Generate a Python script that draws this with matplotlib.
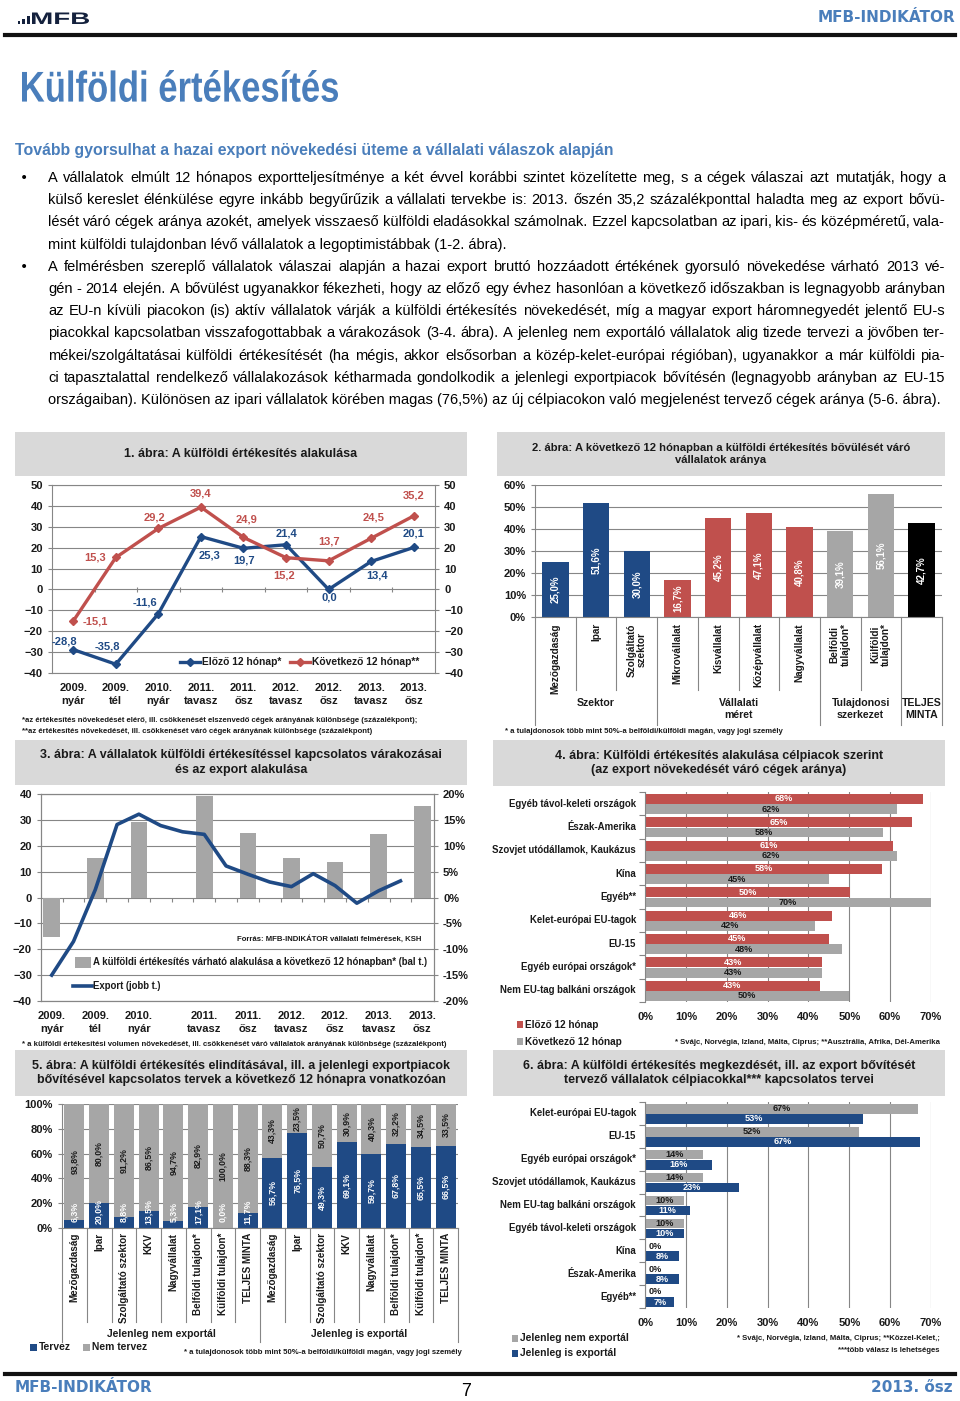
import numpy as np
import matplotlib
matplotlib.use('Agg')
import matplotlib.pyplot as plt
from matplotlib import font_manager
from matplotlib.patches import Rectangle, PathPatch
from matplotlib.lines import Line2D
from matplotlib.textpath import TextPath
from matplotlib.font_manager import FontProperties
from matplotlib.transforms import Affine2D
from matplotlib.ticker import FuncFormatter

# ---------------- data ----------------
periods = ['2009.\nnyár', '2009.\ntél', '2010.\nnyár', '2011.\ntavasz', '2011.\nősz',
           '2012.\ntavasz', '2012.\nősz', '2013.\ntavasz', '2013.\nősz']
prev12 = [-28.8, -35.8, -11.6, 25.3, 19.7, 21.4, 0.0, 13.4, 20.1]
next12 = [-15.1, 15.3, 29.2, 39.4, 24.9, 15.2, 13.7, 24.5, 35.2]

cats2 = ['Mezőgazdaság', 'Ipar', 'Szolgáltató\nszektor', 'Mikrovállalat', 'Kisvállalat',
         'Középvállalat', 'Nagyvállalat', 'Belföldi\ntulajdon*', 'Külföldi\ntulajdon*', '']
vals2 = [25.0, 51.6, 30.0, 16.7, 45.2, 47.1, 40.8, 39.1, 56.1, 42.7]
groups2 = ['Szektor', 'Vállalati\nméret', 'Tulajdonosi\nszerkezet', 'TELJES\nMINTA']
group_of2 = [0, 0, 0, 1, 1, 1, 1, 2, 2, 3]

# chart 3: survey dates in quarters since 2009 summer, export growth quarterly (%)
survey_q = [0, 2, 4, 7, 9, 11, 13, 15, 17]
export_q = list(range(17))
export_yoy = [-15.0, -8.5, 1.5, 14.1, 16.1, 13.9, 12.7, 12.2, 6.1, 4.5, 3.0, 2.1, 4.6, 2.3, -1.1, 1.3, 3.2]

markets4 = ['Egyéb távol-keleti országok', 'Észak-Amerika', 'Szovjet utódállamok, Kaukázus', 'Kína',
            'Egyéb**', 'Kelet-európai EU-tagok', 'EU-15', 'Egyéb európai országok*',
            'Nem EU-tag balkáni országok']
prev4 = [68.1, 65.3, 60.6, 57.9, 50.2, 45.7, 45.0, 43.2, 42.8]
next4 = [61.6, 58.3, 61.6, 45.0, 70.0, 41.6, 48.3, 43.2, 50.0]

cats5 = ['Mezőgazdaság', 'Ipar', 'Szolgáltató szektor', 'KKV', 'Nagyvállalat',
         'Belföldi tulajdon*', 'Külföldi tulajdon*', 'TELJES MINTA'] * 2
groups5 = ['Jelenleg nem exportál', 'Jelenleg is exportál']
plan5 = [6.3, 20.0, 8.8, 13.5, 5.3, 17.1, 0.0, 11.7, 56.7, 76.5, 49.3, 69.1, 59.7, 67.8, 65.5, 66.5]
noplan5 = [93.8, 80.0, 91.2, 86.5, 94.7, 82.9, 100.0, 88.3, 43.3, 23.5, 50.7, 30.9, 40.3, 32.2, 34.5, 33.5]

markets6 = ['Kelet-európai EU-tagok', 'EU-15', 'Egyéb európai országok*', 'Szovjet utódállamok, Kaukázus',
            'Nem EU-tag balkáni országok', 'Egyéb távol-keleti országok', 'Kína', 'Észak-Amerika', 'Egyéb**']
nonexp6 = [66.8, 52.4, 14.3, 14.3, 9.6, 9.6, 0.0, 0.0, 0.0]
exp6 = [53.4, 67.3, 16.3, 23.0, 11.0, 9.6, 8.4, 8.4, 7.2]

body = [
    'A vállalatok elmúlt 12 hónapos exportteljesítménye a két évvel korábbi szintet közelítette meg, s a cégek válaszai azt mutatják, hogy a',
    'külső kereslet élénkülése egyre inkább begyűrűzik a vállalati tervekbe is: 2013. őszén 35,2 százalékponttal haladta meg az export bővü-',
    'lését váró cégek aránya azokét, amelyek visszaeső külföldi eladásokkal számolnak. Ezzel kapcsolatban az ipari, kis- és középméretű, vala-',
    'mint külföldi tulajdonban lévő vállalatok a legoptimistábbak (1-2. ábra).',
    'A felmérésben szereplő vállalatok válaszai alapján a hazai export bruttó hozzáadott értékének gyorsuló növekedése várható 2013 vé-',
    'gén - 2014 elején. A bővülést ugyanakkor fékezheti, hogy az előző egy évhez hasonlóan a következő időszakban is legnagyobb arányban',
    'az EU-n kívüli piacokon (is) aktív vállalatok várják a külföldi értékesítés növekedését, míg a magyar export háromnegyedét jelentő EU-s',
    'piacokkal kapcsolatban visszafogottabbak a várakozások (3-4. ábra). A jelenleg nem exportáló vállalatok alig tizede tervezi a jövőben ter-',
    'mékei/szolgáltatásai külföldi értékesítését (ha mégis, akkor elsősorban a közép-kelet-európai régióban), ugyanakkor a már külföldi pia-',
    'ci tapasztalattal rendelkező vállalakozások kétharmada gondolkodik a jelenlegi exportpiacok bővítésén (legnagyobb arányban az EU-15',
    'országaiban). Különösen az ipari vállalatok körében magas (76,5%) az új célpiacokon való megjelenést tervező cégek aránya (5-6. ábra).',
]
bullet_lines = [0, 4]
last_lines = [3, 10]

# ---------------- style ----------------
NAVY = '#1F4A85'
RED = '#C0504D'
GRAY = '#A6A6A6'
BOXGRAY = '#D9D9D9'
GRID = '#868686'
HEADBLUE = '#4A7EBB'
DARK = '#1A1A1A'

names = {f.name for f in font_manager.fontManager.ttflist}
FONT = 'Liberation Sans Narrow' if 'Liberation Sans Narrow' in names else 'Liberation Sans'
plt.rcParams['font.family'] = [FONT, 'DejaVu Sans']
plt.rcParams['font.weight'] = 'bold'
plt.rcParams['axes.linewidth'] = 0.8

W, H = 960, 1401
fig = plt.figure(figsize=(W / 100, H / 100), dpi=100)


def px_axes(x0, y0, x1, y1):
    return fig.add_axes([x0 / W, 1 - y1 / H, (x1 - x0) / W, (y1 - y0) / H])


def ptext(x, y, s, **kw):
    return fig.text(x / W, 1 - y / H, s, **kw)


def box(x0, y0, x1, y1, color):
    fig.add_artist(Rectangle((x0 / W, 1 - y1 / H), (x1 - x0) / W, (y1 - y0) / H,
                             transform=fig.transFigure, facecolor=color, edgecolor='none'))


def hline(x0, x1, y, lw, color):
    fig.add_artist(Line2D([x0 / W, x1 / W], [1 - y / H] * 2, transform=fig.transFigure, lw=lw, color=color))


def path_text(s, x0, y0, x1, y1, color):
    # text drawn as a path, stretched into the pixel box (x0, y0)-(x1, y1)
    tp = TextPath((0, 0), s, size=1, prop=FontProperties(family='Liberation Sans', weight='bold'))
    ext = tp.get_extents()
    sx = (x1 - x0) / ext.width
    sy = (y1 - y0) / ext.height
    tr = Affine2D().translate(-ext.x0, -ext.y0).scale(sx, sy).translate(x0, H - y1)
    fig.add_artist(PathPatch(tp, transform=tr, facecolor=color, edgecolor='none'))


def chart_title(x0, y0, x1, y1, text, size=9):
    box(x0, y0, x1, y1, BOXGRAY)
    ptext((x0 + x1) / 2, (y0 + y1) / 2, text, ha='center', va='center', fontsize=size,
          color=DARK, linespacing=1.25)


def style_axes(ax):
    for s in ax.spines.values():
        s.set_color(GRID)
    ax.tick_params(colors=DARK, labelsize=8, length=3)
    ax.tick_params(axis='both', color=GRID)


pct = FuncFormatter(lambda v, _: f'{v:.0f}%')


def comma(v, d=1):
    return f'{v:.{d}f}'.replace('.', ',')


# ---------------- header ----------------
box(17.7, 21, 20.3, 24, '#14213D')
box(22.3, 19.5, 25.0, 24, '#14213D')
box(27.0, 16.5, 30.3, 24, '#14213D')
path_text('MFB', 32, 12.5, 89, 24, '#14213D')
ptext(955, 17, 'MFB-INDIKÁTOR', ha='right', va='center', fontsize=11, family='DejaVu Sans',
      color=HEADBLUE)
hline(5, 955, 35, 3, '#111111')

path_text('Külföldi értékesítés', 22, 70, 338, 102, HEADBLUE)
ptext(15, 150, 'Tovább gyorsulhat a hazai export növekedési üteme a vállalati válaszok alapján',
      ha='left', va='center', fontsize=11.4, color=HEADBLUE)

# ---------------- body text (justified) ----------------
renderer = fig.canvas.get_renderer()
for i, line in enumerate(body):
    y = 178 + i * 22.2
    if i in bullet_lines:
        ptext(20, y, '•', ha='left', va='center', fontsize=10, weight='normal', family='DejaVu Sans')
    if i in last_lines:
        ptext(48, y, line, ha='left', va='center', fontsize=10.5, weight='normal', color='black')
        continue
    words = line.split(' ')
    txts = [ptext(0, y, w, ha='left', va='center', fontsize=10.5, weight='normal', color='black') for w in words]
    widths = [t.get_window_extent(renderer).width for t in txts]
    gap = (945 - 48 - sum(widths)) / (len(words) - 1)
    x = 48
    for t, w in zip(txts, widths):
        t.set_x(x / W)
        x += w + gap

# ---------------- chart 1 ----------------
chart_title(15, 432, 467, 476, '1. ábra: A külföldi értékesítés alakulása')
ax1 = px_axes(52, 485, 435, 673)
xs = np.arange(len(periods))
ax1.plot(xs, prev12, color=NAVY, lw=2.4, marker='D', ms=4.5, zorder=3)
ax1.plot(xs, next12, color=RED, lw=2.4, marker='D', ms=4.5, zorder=3)
ax1.set_xlim(-0.5, 8.5)
ax1.set_ylim(-40, 50)
ax1.set_yticks(range(-40, 51, 10))
ax1.grid(axis='y', color=GRID, lw=0.8)
ax1.set_axisbelow(True)
style_axes(ax1)
ax1.tick_params(axis='y', right=True, labelright=True)
ax1.set_xticks(xs)
ax1.set_xticklabels(periods, linespacing=1.4)
ax1.tick_params(axis='x', length=0, pad=7)
ax1.vlines(np.arange(0.5, 8.5), -1.3, 1.3, color=GRID, lw=0.8)
prev_off = [(-9, 8), (-8, 18), (-13, 11), (9, -19), (1, -12), (0, 11), (1, -8), (6, -14), (0, 14)]
next_off = [(22, -1), (-21, 0), (-4, 11), (0, 14), (3, 18), (-2, -18), (0, 19), (2, 21), (0, 20)]
for i in range(len(periods)):
    ax1.annotate(comma(prev12[i]), (i, prev12[i]), xytext=(prev_off[i][0] * 0.72, prev_off[i][1] * 0.72),
                 textcoords='offset points', ha='center', va='center', color=NAVY, fontsize=8)
    ax1.annotate(comma(next12[i]), (i, next12[i]), xytext=(next_off[i][0] * 0.72, next_off[i][1] * 0.72),
                 textcoords='offset points', ha='center', va='center', color=RED, fontsize=8)
fig.add_artist(Line2D([180 / W, 190 / W, 200 / W], [1 - 662 / H] * 3, transform=fig.transFigure,
                      color=NAVY, lw=2.4, marker='D', ms=4, markevery=[1]))
ptext(202, 662, 'Előző 12 hónap*', ha='left', va='center', fontsize=7.4, color=DARK)
fig.add_artist(Line2D([290 / W, 300 / W, 310 / W], [1 - 662 / H] * 3, transform=fig.transFigure,
                      color=RED, lw=2.4, marker='D', ms=4, markevery=[1]))
ptext(312, 662, 'Következő 12 hónap**', ha='left', va='center', fontsize=7.4, color=DARK)
ptext(22, 721, '*az értékesítés növekedését elérő, ill. csökkenését elszenvedő cégek arányának különbsége (százalékpont);',
      ha='left', va='center', fontsize=5.6, color=DARK)
ptext(22, 732, '**az értékesítés növekedését, ill. csökkenését váró cégek arányának különbsége (százalékpont)',
      ha='left', va='center', fontsize=5.6, color=DARK)

# ---------------- chart 2 ----------------
chart_title(497, 432, 945, 476, '2. ábra: A következő 12 hónapban a külföldi értékesítés bővülését váró\nvállalatok aránya', 8.1)
ax2 = px_axes(535, 485, 942, 617)
colors2 = [[NAVY, RED, GRAY, 'black'][g] for g in group_of2]
xs2 = np.arange(len(vals2))
ax2.bar(xs2, vals2, width=0.65, color=colors2, zorder=2)
ax2.set_xlim(-0.5, 9.5)
ax2.set_ylim(0, 60)
ax2.set_yticks(range(0, 61, 10))
ax2.yaxis.set_major_formatter(pct)
ax2.grid(axis='y', color=GRID, lw=0.8)
ax2.set_axisbelow(True)
style_axes(ax2)
ax2.spines['top'].set_visible(False)
ax2.spines['right'].set_visible(False)
ax2.set_xticks([])
for i, v in enumerate(vals2):
    ax2.text(i, v / 2, comma(v) + '%', rotation=90, ha='center', va='center', color='white', fontsize=7)
    ax2.text(i, -6 / 132, cats2[i], rotation=90, ha='center', va='top', multialignment='center',
             transform=ax2.get_xaxis_transform(), fontsize=7.2, color=DARK, linespacing=1.1)
tr2 = ax2.get_xaxis_transform()
for b in np.arange(-0.5, 10):
    is_group = b < 0 or b > 9 or group_of2[int(b - 0.5)] != group_of2[int(b + 0.5)]
    ax2.plot([b, b], [0, -108 / 132 if is_group else -73 / 132], transform=tr2, clip_on=False, color=GRID, lw=0.8)
for g, name in enumerate(groups2):
    members = [i for i in range(len(vals2)) if group_of2[i] == g]
    ax2.text(np.mean(members), -81 / 132, name, ha='center', va='top', transform=tr2, fontsize=7.6,
             color=DARK, linespacing=1.3)
ptext(505, 732, '* a tulajdonosok több mint 50%-a belföldi/külföldi magán, vagy jogi személy',
      ha='left', va='center', fontsize=5.6, color=DARK)

# ---------------- chart 3 ----------------
chart_title(15, 740, 467, 785, '3. ábra: A vállalatok külföldi értékesítéssel kapcsolatos várakozásai\nés az export alakulása')
ax3 = px_axes(41, 794, 434, 1001)
ax3.bar(survey_q, next12, width=0.76, color=GRAY, zorder=2)
ax3.set_xlim(-0.49, 17.54)
ax3.set_ylim(-40, 40)
ax3.set_yticks(range(-40, 41, 10))
ax3.grid(axis='y', color=GRID, lw=0.8)
ax3.set_axisbelow(True)
style_axes(ax3)
ax3.set_xticks(survey_q)
ax3.set_xticklabels(periods, linespacing=1.4)
ax3.tick_params(axis='x', length=0, pad=7)
ax3.vlines(np.arange(0.5, 17), -1.6, 0, color=GRID, lw=0.8)
ax3b = ax3.twinx()
ax3b.plot(export_q, export_yoy, color=NAVY, lw=2.6, zorder=3)
ax3b.set_ylim(-20, 20)
ax3b.set_yticks(range(-20, 21, 5))
ax3b.yaxis.set_major_formatter(pct)
style_axes(ax3b)
ptext(237, 939, 'Forrás: MFB-INDIKÁTOR vállalati felmérések, KSH', ha='left', va='center', fontsize=5.6, color=DARK)
box(75, 957, 91, 968, GRAY)
ptext(93, 962, 'A külföldi értékesítés várható alakulása a következő 12 hónapban* (bal t.)',
      ha='left', va='center', fontsize=6.9, color=DARK)
hline(73, 92, 986, 2.6, NAVY)
ptext(93, 986, 'Export (jobb t.)', ha='left', va='center', fontsize=6.9, color=DARK)
ptext(22, 1045, '* a külföldi értékesítési volumen növekedését, ill. csökkenését váró vállalatok arányának különbsége (százalékpont)',
      ha='left', va='center', fontsize=5.6, color=DARK)


# ---------------- horizontal bar charts ----------------
def hbar_chart(ax, names_, top_vals, bot_vals, top_color, bot_color, top_txt, bot_txt):
    y = np.arange(len(names_))[::-1]
    ax.barh(y + 0.2, top_vals, height=0.42, color=top_color, zorder=2)
    ax.barh(y - 0.24, bot_vals, height=0.42, color=bot_color, zorder=2)
    ax.set_xlim(0, 70)
    ax.set_ylim(-0.5, len(names_) - 0.5)
    ax.set_xticks(range(0, 71, 10))
    ax.xaxis.set_major_formatter(pct)
    ax.grid(axis='x', color=GRID, lw=0.8)
    ax.set_axisbelow(True)
    style_axes(ax)
    for s in ['top', 'right', 'bottom']:
        ax.spines[s].set_visible(False)
    ax.tick_params(axis='x', length=0, pad=7)
    ax.set_yticks(np.arange(-0.5, len(names_), 1))
    ax.set_yticklabels([])
    ax.tick_params(axis='y', length=4)
    for yy, nm, a, b in zip(y, names_, top_vals, bot_vals):
        ax.text(-9 / 286, yy, nm, transform=ax.get_yaxis_transform(), ha='right', va='center',
                fontsize=6.9, color=DARK)
        ax.text(max(a / 2, 2.6), yy + 0.2, f'{a:.0f}%', ha='center', va='center', fontsize=6.6, color=top_txt)
        ax.text(max(b / 2, 2.6), yy - 0.24, f'{b:.0f}%', ha='center', va='center', fontsize=6.6, color=bot_txt)


chart_title(493, 740, 945, 786, '4. ábra: Külföldi értékesítés alakulása célpiacok szerint\n(az export növekedését váró cégek aránya)')
ax4 = px_axes(645, 792, 931, 1002)
hbar_chart(ax4, markets4, prev4, next4, RED, GRAY, 'white', DARK)
box(517, 1021, 523, 1028, RED)
ptext(525, 1025, 'Előző 12 hónap', ha='left', va='center', fontsize=7.2, color=DARK)
box(517, 1038, 523, 1045, GRAY)
ptext(525, 1042, 'Következő 12 hónap', ha='left', va='center', fontsize=7.2, color=DARK)
ptext(940, 1043, '* Svájc, Norvégia, Izland, Málta, Ciprus; **Ausztrália, Afrika, Dél-Amerika',
      ha='right', va='center', fontsize=5.6, color=DARK)

# ---------------- chart 5 ----------------
chart_title(15, 1050, 467, 1096, '5. ábra: A külföldi értékesítés elindításával, ill. a jelenlegi exportpiacok\nbővítésével kapcsolatos tervek a következő 12 hónapra vonatkozóan')
ax5 = px_axes(62, 1104, 458, 1228)
xs5 = np.arange(len(plan5))
ax5.bar(xs5, plan5, width=0.8, color=NAVY, zorder=2)
ax5.bar(xs5, noplan5, bottom=plan5, width=0.8, color=GRAY, zorder=2)
ax5.set_xlim(-0.5, 15.5)
ax5.set_ylim(0, 100)
ax5.set_yticks(range(0, 101, 20))
ax5.yaxis.set_major_formatter(pct)
ax5.grid(axis='y', color=GRID, lw=0.8)
ax5.set_axisbelow(True)
style_axes(ax5)
ax5.spines['top'].set_visible(False)
ax5.spines['right'].set_visible(False)
ax5.set_xticks([])
tr5 = ax5.get_xaxis_transform()
for i in xs5:
    ax5.text(i, max(plan5[i] / 2, 13), comma(plan5[i]) + '%', rotation=90, ha='center', va='center',
             color='white', fontsize=6.3)
    ax5.text(i, plan5[i] + noplan5[i] / 2, comma(noplan5[i]) + '%', rotation=90, ha='center', va='center',
             color=DARK, fontsize=6.3)
    ax5.text(i, -5 / 124, cats5[i], rotation=90, ha='center', va='top', transform=tr5, fontsize=7.1, color=DARK)
for b in np.arange(-0.5, 16):
    ax5.plot([b, b], [0, -114 / 124 if b in (-0.5, 7.5, 15.5) else -94 / 124], transform=tr5,
             clip_on=False, color=GRID, lw=0.8)
ax5.text(3.5, -106 / 124, groups5[0], ha='center', va='center', transform=tr5, fontsize=7.4, color=DARK)
ax5.text(11.5, -106 / 124, groups5[1], ha='center', va='center', transform=tr5, fontsize=7.4, color=DARK)
box(30, 1344, 37, 1351, NAVY)
ptext(39, 1347, 'Tervez', ha='left', va='center', fontsize=7.4, color=DARK)
box(83, 1344, 90, 1351, GRAY)
ptext(92, 1347, 'Nem tervez', ha='left', va='center', fontsize=7.4, color=DARK)
ptext(462, 1352, '* a tulajdonosok több mint 50%-a belföldi/külföldi magán, vagy jogi személy',
      ha='right', va='center', fontsize=5.6, color=DARK)

# ---------------- chart 6 ----------------
chart_title(493, 1050, 945, 1096, '6. ábra: A külföldi értékesítés megkezdését, ill. az export bővítését\ntervező vállalatok célpiacokkal*** kapcsolatos tervei')
ax6 = px_axes(645, 1102, 931, 1308)
hbar_chart(ax6, markets6, nonexp6, exp6, GRAY, NAVY, DARK, 'white')
box(512, 1335, 518, 1342, GRAY)
ptext(520, 1338, 'Jelenleg nem exportál', ha='left', va='center', fontsize=7.4, color=DARK)
box(512, 1350, 518, 1357, NAVY)
ptext(520, 1353, 'Jelenleg is exportál', ha='left', va='center', fontsize=7.4, color=DARK)
ptext(940, 1338, '* Svájc, Norvégia, Izland, Málta, Ciprus; **Közzel-Kelet,;', ha='right', va='center',
      fontsize=5.6, color=DARK)
ptext(940, 1350, '***több válasz is lehetséges', ha='right', va='center', fontsize=5.6, color=DARK)

# ---------------- footer ----------------
hline(5, 955, 1374, 3, '#111111')
ptext(15, 1388, 'MFB-INDIKÁTOR', ha='left', va='center', fontsize=11, family='DejaVu Sans', color=HEADBLUE)
ptext(466, 1392, '7', ha='center', va='center', fontsize=13, weight='normal', color='black')
ptext(953, 1388, '2013. ősz', ha='right', va='center', fontsize=11, family='DejaVu Sans', color=HEADBLUE)

fig.savefig('out.png', dpi=100)
